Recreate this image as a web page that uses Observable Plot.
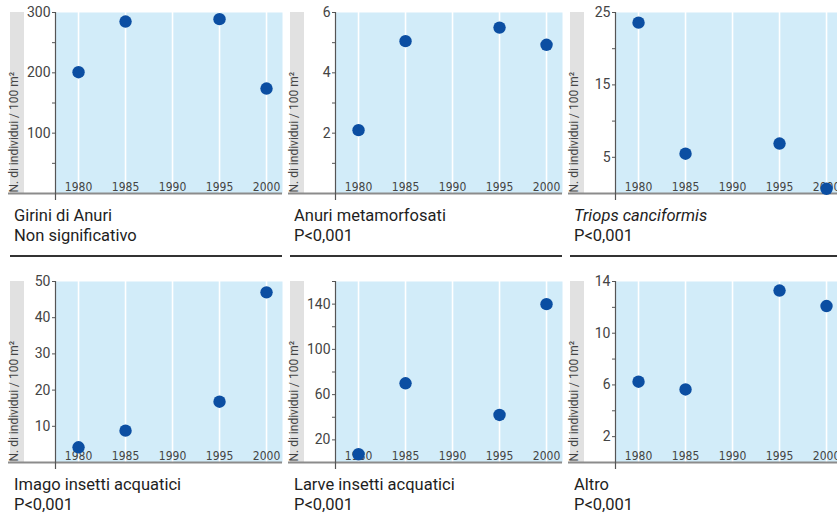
<!DOCTYPE html>
<html><head><meta charset="utf-8">
<script src="https://cdn.jsdelivr.net/npm/d3@7"></script>
<script src="https://cdn.jsdelivr.net/npm/@observablehq/plot@0.6"></script>
<style>
body{margin:0;background:#fff;font-family:Roboto,"Liberation Sans",sans-serif;}
#wrap{position:relative;width:837px;height:520px;overflow:hidden;background:#fff;}
.panel{position:absolute;width:285px;height:269px;}
.strip{position:absolute;left:10px;top:12px;width:14px;height:181px;background:#e1e1e1;}
.panel svg{position:absolute;left:0;top:0;}
.title{position:absolute;left:14px;top:206px;font-size:16.5px;line-height:20px;color:#1e1e1e;white-space:nowrap;}
.rule{position:absolute;left:10px;top:255px;width:272px;height:1.5px;background:#333;}
.xlab text{font-family:"Liberation Sans Narrow","DejaVu Sans Condensed",sans-serif;}
</style></head>
<body><div id="wrap"></div>
<script>
const years = [1980, 1985, 1995, 2000];
const gridYears = [1980, 1985, 1990, 1995, 2000];
const girini = [201, 285, 289, 174];
const anuriMeta = [2.1, 5.05, 5.5, 4.93];
const triops = [23.6, 5.5, 6.9, 0.65];
const imago = [4.2, 8.8, 16.8, 47];
const larve = [7.3, 70, 42, 140];
const altro = [6.25, 5.65, 13.3, 12.1];
const series = [girini, anuriMeta, triops, imago, larve, altro];
const titles = ["Girini di Anuri", "Anuri metamorfosati", "<i>Triops canciformis</i>", "Imago insetti acquatici", "Larve insetti acquatici", "Altro"];
const subtitles = ["Non significativo", "P<0,001", "P<0,001", "P<0,001", "P<0,001", "P<0,001"];
const yMax = [300, 6, 25, 50, 160, 14];
const yMinorStep = [50, 1, 5, 10, 20, 2];
const yLabels = [[100, 200, 300], [2, 4, 6], [5, 15, 25], [10, 20, 30, 40, 50], [20, 60, 100, 140], [2, 6, 10, 14]];
const yAxisLabel = "N. di individui / 100 m²";

const xDomain = [1977.55, 2001.7];
const wrap = document.getElementById("wrap");

series.forEach((vals, k) => {
  const col = k % 3, row = Math.floor(k / 3);
  const panel = document.createElement("div");
  panel.className = "panel";
  panel.style.left = (col * 280) + "px";
  panel.style.top = (row * 269) + "px";
  const strip = document.createElement("div");
  strip.className = "strip";
  panel.appendChild(strip);

  const ticks = d3.range(yMinorStep[k], yMax[k] + yMinorStep[k] / 2, yMinorStep[k]);
  const labels = yLabels[k];
  const data = years.map((y, i) => ({year: y, value: vals[i]}));

  const svg = Plot.plot({
    width: 285, height: 203,
    marginLeft: 55, marginRight: 3, marginTop: 12, marginBottom: 10,
    style: {background: "transparent", overflow: "visible", fontFamily: "Roboto, 'Liberation Sans', sans-serif"},
    x: {domain: xDomain},
    y: {domain: [0, yMax[k]]},
    marks: [
      Plot.frame({fill: "#d2ecf9", stroke: "none"}),
      Plot.gridX(gridYears, {stroke: "white", strokeOpacity: 1, strokeWidth: 1.6}),
      Plot.axisY(ticks, {tickSize: 3, tickPadding: 2, fontSize: 14, color: "#444", stroke: "#555", label: null,
        tickFormat: d => labels.includes(d) ? String(d) : ""}),
      Plot.axisX(gridYears, {tickSize: 0, tickPadding: 0, dy: -11, fontSize: 12, color: "#444", label: null,
        className: "xlab", tickFormat: d => String(d)}),
      Plot.ruleY([0], {stroke: "#8c8c8c", strokeWidth: 2, insetLeft: -47}),
      Plot.ruleX([xDomain[0]], {stroke: "#555", strokeWidth: 1.2, insetBottom: -7}),
      Plot.text([yAxisLabel], {text: d => d, frameAnchor: "bottom-left", rotate: -90, textAnchor: "start",
        dx: -38, dy: -1, fontSize: 12, fill: "#444"}),
      Plot.dot(data, {x: "year", y: "value", r: 6.2, fill: "#0b4ea2", stroke: "none"})
    ]
  });
  panel.appendChild(svg);

  const t = document.createElement("div");
  t.className = "title";
  t.innerHTML = titles[k] + "<br>" + subtitles[k].replace("<", "&lt;");
  panel.appendChild(t);
  const r = document.createElement("div");
  r.className = "rule";
  panel.appendChild(r);
  wrap.appendChild(panel);
});
</script>
</body></html>
